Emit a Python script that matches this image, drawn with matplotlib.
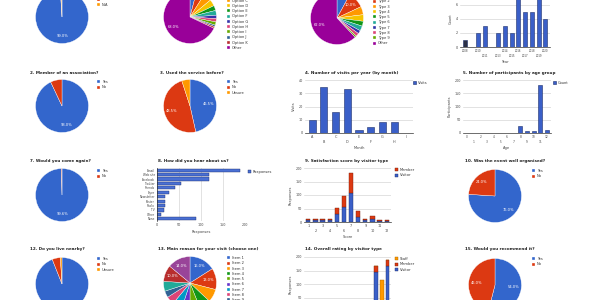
import matplotlib
matplotlib.use("Agg")
import matplotlib.pyplot as plt
import numpy as np

W, H = 600, 300
GC = ['#3366cc', '#dc3912', '#ff9900', '#109618', '#990099', '#0099c6',
      '#dd4477', '#66aa00', '#b82e2e', '#316395', '#994499', '#22aa99']

# ---------------- data ----------------
p11_vals = [99.0, 0.5, 0.5]
p11_labels = ['Yes', 'No', 'N/A']

p12_vals = [4, 5, 5, 4, 3, 3, 2, 2, 2, 1, 1, 68]
p12_labels = ['Option A', 'Option B', 'Option C', 'Option D', 'Option E', 'Option F',
              'Option G', 'Option H', 'Option I', 'Option J', 'Option K', 'Other']
p12_colors = ['#3366cc', '#dc3912', '#ff9900', '#f5c400', '#109618', '#22aa99',
              '#3333aa', '#dd4477', '#66aa00', '#316395', '#b82e2e', '#990099']

p13_vals = [8, 10, 5, 4, 3, 3, 2, 2, 1, 62]
p13_labels = ['Type 1', 'Type 2', 'Type 3', 'Type 4', 'Type 5', 'Type 6',
              'Type 7', 'Type 8', 'Type 9', 'Other']
p13_colors = ['#3366cc', '#dc3912', '#ff9900', '#f5c400', '#109618', '#22aa99',
              '#3333aa', '#dd4477', '#66aa00', '#990099']

b14_cats = ['2008', '', '2010', '2011', '', '2013', '2014', '2015', '2016',
            '2017', '2018', '2019', '2020']
b14_vals = [1, 0, 2, 3, 0, 2, 3, 2, 8, 5, 5, 8, 4]

p21_vals = [93, 7]
p21_labels = ['Yes', 'No']

p22_vals = [46.5, 48.5, 5]
p22_labels = ['Yes', 'No', 'Unsure']

b23_cats = ['A', 'B', 'C', 'D', 'E', 'F', 'G', 'H', 'I']
b23_vals = [10, 35, 16, 33, 2.5, 4.5, 8, 8, 0]

b24_cats = ['0', '1', '2', '3', '4', '5', '6', '7', '8', '9', '10', '11', '12']
b24_vals = [0, 0, 0, 0, 0, 0, 0, 0, 25, 6, 6, 180, 10]

p31_vals = [99.6, 0.4]
p31_labels = ['Yes', 'No']

h32_cats = ['Email', 'Web site', 'Facebook', 'Twitter', 'Friends', 'Flyer',
            'Newsletter', 'Poster', 'Radio', 'TV', 'Other', 'None']
h32_vals = [188, 119, 119, 54, 42, 27, 19, 19, 19, 17, 8, 88]

s33_cats = ['1', '2', '3', '4', '5', '6', '7', '8', '9', '10', '11', '12']
s33_blue = [6, 6, 6, 6, 31, 56, 106, 19, 6, 12, 4, 4]
s33_red = [6, 6, 6, 6, 22, 40, 75, 21, 6, 12, 2, 2]

p34_vals = [76, 24]
p34_labels = ['Yes', 'No']

p41_vals = [94, 5, 1]
p41_labels = ['Yes', 'No', 'Unsure']

p42_vals = [16, 13, 8, 7, 6, 5, 6, 5, 4, 6, 10, 14]
p42_labels = ['Item 1', 'Item 2', 'Item 3', 'Item 4', 'Item 5', 'Item 6',
              'Item 7', 'Item 8', 'Item 9', 'Item 10', 'Item 11', 'Item 12']
p42_colors = ['#3366cc', '#dc3912', '#ff9900', '#109618', '#66aa00', '#6633cc',
              '#0099c6', '#dd4477', '#316395', '#22aa99', '#b82e2e', '#994499']

s43_cats = [str(i) for i in range(1, 16)]
s43_blue = [0, 0, 0, 0, 0, 0, 0, 0, 0, 0, 0, 0, 146, 0, 167]
s43_red = [0, 0, 0, 0, 0, 0, 0, 0, 0, 0, 0, 0, 19, 0, 21]
s43_orange = [0, 0, 0, 0, 0, 0, 0, 0, 0, 0, 0, 0, 0, 116, 0]

p44_vals = [54, 46]
p44_labels = ['Yes', 'No']

titles = {
    (1, 0): '2. Member of an association?',
    (1, 1): '3. Used the service before?',
    (1, 2): '4. Number of visits per year (by month)',
    (1, 3): '5. Number of participants by age group',
    (2, 0): '7. Would you come again?',
    (2, 1): '8. How did you hear about us?',
    (2, 2): '9. Satisfaction score by visitor type',
    (2, 3): '10. Was the event well organised?',
    (3, 0): '12. Do you live nearby?',
    (3, 1): '13. Main reason for your visit (choose one)',
    (3, 2): '14. Overall rating by visitor type',
    (3, 3): '15. Would you recommend it?',
}

fig = plt.figure(figsize=(6, 3), dpi=100)
fig.patch.set_facecolor('white')


def box(x, y, w, h):
    return [x / W, 1 - (y + h) / H, w / W, h / H]


def title(key, x, y):
    if key in titles:
        fig.text(x / W, 1 - y / H, titles[key], fontsize=3, ha='left', va='center',
                 color='#222222', fontweight='bold')


def legend(handles, labels, x, y):
    fig.legend(handles, labels, loc='upper left', bbox_to_anchor=(x / W, 1 - y / H),
               fontsize=2.6, frameon=False, handlelength=0.9, handleheight=0.9,
               labelspacing=0.35, handletextpad=0.5, borderpad=0, borderaxespad=0,
               labelcolor='#333333')


def pie(cx, cy, vals, colors, labels, lx, ly, r=27):
    ax = fig.add_axes(box(cx - r, cy - r, 2 * r, 2 * r))
    wedges, _, _ = ax.pie(vals, colors=colors, startangle=90, counterclock=False,
                          wedgeprops=dict(edgecolor='white', linewidth=0.25),
                          autopct=lambda p: f'{p:.1f}%' if p > 8 else '',
                          pctdistance=0.72, textprops=dict(color='white', fontsize=2.6))
    ax.set_xlim(-1.02, 1.02)
    ax.set_ylim(-1.02, 1.02)
    legend(wedges, labels, lx, ly)
    return ax


def style_bar(ax, ylabel=None, xlabel=None, horizontal=False, xsize=2.4):
    for s in ['top', 'right', 'left']:
        ax.spines[s].set_visible(False)
    if horizontal:
        ax.spines['bottom'].set_visible(False)
        ax.spines['left'].set_visible(True)
        ax.spines['left'].set_color('#333333')
        ax.spines['left'].set_linewidth(0.5)
        ax.xaxis.grid(True, color='#cccccc', linewidth=0.4)
    else:
        ax.spines['bottom'].set_color('#333333')
        ax.spines['bottom'].set_linewidth(0.5)
        ax.yaxis.grid(True, color='#cccccc', linewidth=0.4)
    ax.set_axisbelow(True)
    ax.tick_params(length=0, labelsize=2.4, colors='#444444', pad=1.5)
    ax.tick_params(axis='x', labelsize=xsize)
    if ylabel:
        ax.set_ylabel(ylabel, fontsize=2.6, color='#444444', labelpad=2)
    if xlabel:
        ax.set_xlabel(xlabel, fontsize=2.6, color='#444444', labelpad=2)


def stagger(labels):
    return [lab if i % 2 == 0 else '\n' + lab for i, lab in enumerate(labels)]


BLUE = '#3a5fc8'
EDGE = '#1d2f6b'

# ---------------- row 1 (cut at top) ----------------
pie(62, 17, p11_vals, GC[:3], p11_labels, 97, -8)
pie(190, 17, p12_vals, p12_colors, p12_labels, 227, -12)
pie(337, 18, p13_vals, p13_colors, p13_labels, 373, -6)

ax = fig.add_axes(box(460, -9, 90, 56))
x = np.arange(len(b14_vals))
bars = ax.bar(x, b14_vals, width=0.6, color=BLUE, edgecolor=EDGE, linewidth=0.4)
bars[0].set_facecolor('#2a2f45')
ax.set_xlim(-0.7, len(b14_vals) - 0.3)
ax.set_ylim(0, 8)
ax.set_yticks([0, 2, 4, 6, 8])
ax.set_xticks(x)
ax.set_xticklabels(stagger(b14_cats))
style_bar(ax, ylabel='Count', xlabel='Year', xsize=1.9)

# ---------------- row 2 ----------------
for c, tx in enumerate([30, 160, 305, 463]):
    title((1, c), tx, 73)

pie(62, 106, p21_vals, GC[:2], p21_labels, 97, 80)
pie(190, 106, p22_vals, GC[:3], p22_labels, 227, 80)

ax = fig.add_axes(box(305, 80, 108, 53))
x = np.arange(len(b23_vals))
ax.bar(x, b23_vals, width=0.6, color=BLUE, edgecolor=EDGE, linewidth=0.4, label='Visits')
ax.set_xlim(-0.6, len(b23_vals) - 0.4)
ax.set_ylim(0, 40)
ax.set_yticks([0, 10, 20, 30, 40])
ax.set_xticks(x)
ax.set_xticklabels(stagger(b23_cats))
style_bar(ax, ylabel='Visits', xlabel='Month')
h, l = ax.get_legend_handles_labels()
legend(h, l, 413, 81)

ax = fig.add_axes(box(463, 80, 88, 53))
x = np.arange(len(b24_vals))
ax.bar(x, b24_vals, width=0.6, color=BLUE, edgecolor=EDGE, linewidth=0.4, label='Count')
ax.set_xlim(-0.6, len(b24_vals) - 0.4)
ax.set_ylim(0, 200)
ax.set_yticks([0, 50, 100, 150, 200])
ax.set_xticks(x)
ax.set_xticklabels(stagger(b24_cats))
style_bar(ax, ylabel='Participants', xlabel='Age', xsize=2.1)
h, l = ax.get_legend_handles_labels()
legend(h, l, 553, 81)

# ---------------- row 3 ----------------
for c, tx in enumerate([30, 158, 305, 465]):
    title((2, c), tx, 161)

pie(62, 195, p31_vals, GC[:2], p31_labels, 97, 169)

ax = fig.add_axes(box(157, 168, 88, 53))
y = np.arange(len(h32_vals))
ax.barh(y, h32_vals, height=0.7, color='#4a70d4', edgecolor=EDGE, linewidth=0.3,
        label='Responses')
ax.set_ylim(len(h32_vals) - 0.5, -0.5)
ax.set_xlim(0, 200)
ax.set_xticks([0, 50, 100, 150, 200])
ax.set_yticks(y)
ax.set_yticklabels(h32_cats)
style_bar(ax, xlabel='Responses', horizontal=True)
ax.tick_params(axis='y', labelsize=2.1)
h, l = ax.get_legend_handles_labels()
legend(h, l, 248, 170)

ax = fig.add_axes(box(304, 168, 87, 54))
x = np.arange(len(s33_blue))
ax.bar(x, s33_blue, width=0.6, color=BLUE, edgecolor=EDGE, linewidth=0.3, label='Visitor')
ax.bar(x, s33_red, width=0.6, bottom=s33_blue, color='#dc3912', edgecolor='#7a1f0a',
       linewidth=0.3, label='Member')
ax.set_xlim(-0.6, len(s33_blue) - 0.4)
ax.set_ylim(0, 200)
ax.set_yticks([0, 50, 100, 150, 200])
ax.set_xticks(x)
ax.set_xticklabels(stagger(s33_cats))
style_bar(ax, ylabel='Responses', xlabel='Score')
h, l = ax.get_legend_handles_labels()
legend(h[::-1], l[::-1], 395, 168)

pie(495, 196, p34_vals, GC[:2], p34_labels, 532, 169)

# ---------------- row 4 (cut at bottom) ----------------
for c, tx in enumerate([30, 158, 305, 465]):
    title((3, c), tx, 249)

pie(62, 284, p41_vals, GC[:3], p41_labels, 97, 257)
pie(190, 283, p42_vals, p42_colors, p42_labels, 227, 256)

ax = fig.add_axes(box(304, 257, 87, 54))
x = np.arange(len(s43_blue))
b1 = np.array(s43_blue)
b2 = b1 + np.array(s43_red)
ax.bar(x, s43_blue, width=0.6, color=BLUE, edgecolor=EDGE, linewidth=0.3, label='Visitor')
ax.bar(x, s43_red, width=0.6, bottom=b1, color='#dc3912', edgecolor='#7a1f0a',
       linewidth=0.3, label='Member')
ax.bar(x, s43_orange, width=0.6, bottom=b2, color='#ff9900', edgecolor='#a86500',
       linewidth=0.3, label='Staff')
ax.set_xlim(-0.6, len(s43_blue) - 0.4)
ax.set_ylim(0, 200)
ax.set_yticks([0, 50, 100, 150, 200])
ax.set_xticks(x)
ax.set_xticklabels(stagger(s43_cats))
style_bar(ax, ylabel='Responses', xlabel='Score')
h, l = ax.get_legend_handles_labels()
legend(h[::-1], l[::-1], 395, 257)

pie(495, 285, p44_vals, GC[:2], p44_labels, 532, 257)

fig.savefig('out.png', dpi=100, facecolor='white')
